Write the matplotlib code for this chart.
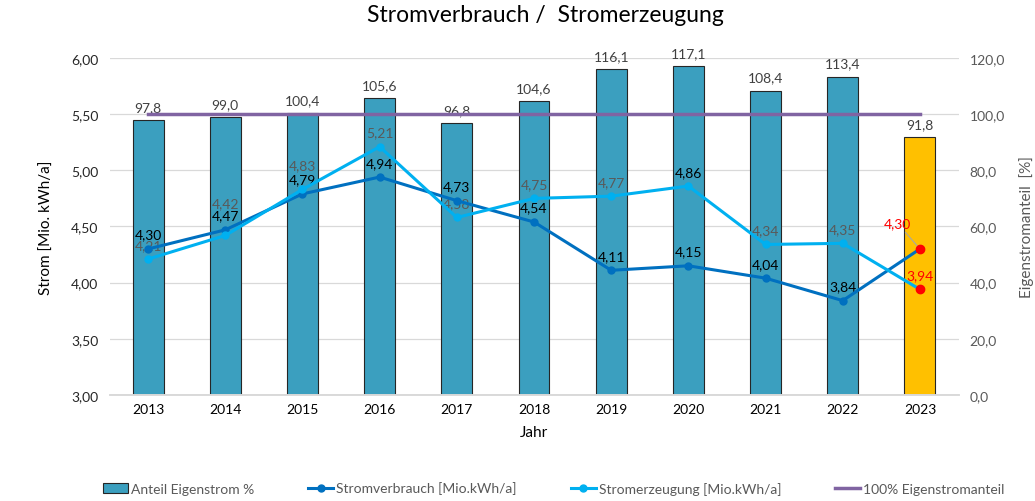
import numpy as np
import matplotlib
matplotlib.use("Agg")
import matplotlib.pyplot as plt

plt.rcParams["font.family"] = ["Lato", "DejaVu Sans"]

jahre = ["2013", "2014", "2015", "2016", "2017", "2018", "2019", "2020", "2021", "2022", "2023"]
anteil = [97.8, 99.0, 100.4, 105.6, 96.8, 104.6, 116.1, 117.1, 108.4, 113.4, 91.8]
verbrauch = [4.30, 4.47, 4.79, 4.94, 4.73, 4.54, 4.11, 4.15, 4.04, 3.84, 4.30]
erzeugung = [4.21, 4.42, 4.83, 5.21, 4.58, 4.75, 4.77, 4.86, 4.34, 4.35, 3.94]
ziel = [100.0] * len(jahre)

def de(v, n):
    return f"{v:.{n}f}".replace(".", ",")

grey = "#595959"
x = np.arange(len(jahre))

fig = plt.figure(figsize=(10.35, 5.02), dpi=100)
ax = fig.add_axes([0.1058, 0.2112, 0.8203, 0.6713])
ax2 = ax.twinx()

# bars on the right axis (percent)
colors = ["#3B9FBF"] * (len(jahre) - 1) + ["#FFC000"]
bars = ax2.bar(x, anteil, width=0.4, color=colors, edgecolor="#262626", linewidth=0.8, zorder=2,
               label="Anteil Eigenstrom %")
for xi, v in zip(x, anteil):
    ax2.annotate(de(v, 1), (xi, v), xytext=(0, 5), textcoords="offset points",
                 ha="center", va="bottom", fontsize=10, color="#404040")
ax2.plot(x, ziel, color="#8064A2", lw=2.5, zorder=3, label="100% Eigenstromanteil")
ax2.set_ylim(0, 120)
ax2.set_yticks(np.arange(0, 121, 20))
ax2.set_yticklabels([de(v, 1) for v in np.arange(0, 121, 20)])
ax2.set_ylabel("Eigenstromanteil  [%]", color=grey, fontsize=11, labelpad=10)

# lines on the left axis
ax.set_zorder(ax2.get_zorder() + 1)
ax.patch.set_visible(False)
l1, = ax.plot(x, verbrauch, color="#0070C0", lw=2.2, marker="o", ms=5, zorder=4,
              label="Stromverbrauch [Mio.kWh/a]")
l2, = ax.plot(x, erzeugung, color="#00B0F0", lw=2.2, marker="o", ms=5, zorder=4,
              label="Stromerzeugung [Mio.kWh/a]")
ax.plot(x[-1], verbrauch[-1], "o", color="red", ms=6, zorder=5)
ax.plot(x[-1], erzeugung[-1], "o", color="red", ms=6, zorder=5)

for i, v in enumerate(verbrauch):
    if i == len(jahre) - 1:
        ax.annotate(de(v, 2), (x[i], v), xytext=(-16, 14), textcoords="offset points",
                    ha="center", va="bottom", fontsize=10, color="red",
                    arrowprops=dict(arrowstyle="-", color="#A6A6A6", lw=0.8, shrinkA=0, shrinkB=3))
    else:
        ax.annotate(de(v, 2), (x[i], v), xytext=(0, 6), textcoords="offset points",
                    ha="center", va="bottom", fontsize=10, color="black")
# grey labels pushed up a bit where they would sit on top of the dark ones
lift = {1: 19, 2: 13}
for i, v in enumerate(erzeugung):
    c = grey
    if i == 7:
        c = "black"
    if i == len(jahre) - 1:
        c = "red"
    ax.annotate(de(v, 2), (x[i], v), xytext=(0, lift.get(i, 6)), textcoords="offset points",
                ha="center", va="bottom", fontsize=10, color=c)

ax.set_ylim(3.0, 6.0)
ax.set_xlim(-0.5, len(jahre) - 0.5)
ticks = np.arange(3.0, 6.01, 0.5)
ax.set_yticks(ticks)
ax.set_yticklabels([de(v, 2) for v in ticks])
ax.set_xticks(x)
ax.set_xticklabels(jahre)
ax.set_ylabel("Strom [Mio. kWh/a]", fontsize=11, labelpad=12)
ax.set_xlabel("Jahr", fontsize=11, labelpad=7)

for t in ticks:
    ax2.axhline((t - 3.0) / 3.0 * 120, color="#D9D9D9", lw=0.9, zorder=0)

for a in (ax, ax2):
    for s in ("top", "left", "right"):
        a.spines[s].set_visible(False)
    a.spines["bottom"].set_color("#D9D9D9")
    a.spines["bottom"].set_linewidth(1.2)
    a.tick_params(length=0, labelsize=10, labelcolor=grey, pad=8)
ax.tick_params(axis="y", labelcolor="#262626")
ax.tick_params(axis="x", labelcolor="black", pad=6)

fig.suptitle("Stromverbrauch /  Stromerzeugung", fontsize=16.5, x=0.527, y=0.99)

handles = [bars, l1, l2, ax2.lines[0]]
fig.legend(handles, [h.get_label() for h in handles], loc="lower center", ncol=4, frameon=False,
           fontsize=10, bbox_to_anchor=(0.535, -0.012), handlelength=1.8, handletextpad=0.2,
           columnspacing=3.9, labelcolor=grey)

fig.savefig("out.png", dpi=100)
